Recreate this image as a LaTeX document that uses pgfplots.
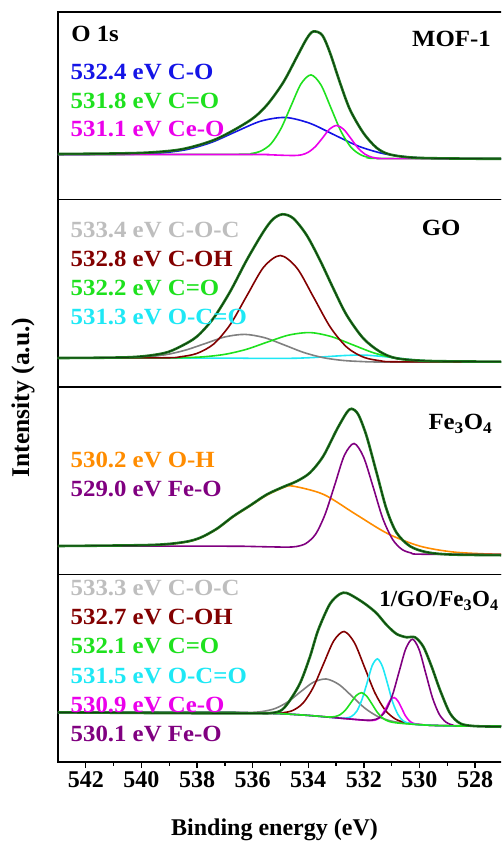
\documentclass[border=0pt]{standalone}
\usepackage{pgfplots}
\pgfplotsset{compat=1.18}
\usepackage{fontspec}
\setmainfont{Liberation Serif}
\newfontfamily\widefont{Liberation Serif}[FakeStretch=1.07]

\definecolor{cBlue}{RGB}{20,20,230}
\definecolor{cGreen}{RGB}{30,225,30}
\definecolor{cMag}{RGB}{235,0,235}
\definecolor{cGreyT}{RGB}{190,190,190}
\definecolor{cGreyL}{RGB}{128,128,128}
\definecolor{cRed}{RGB}{130,0,0}
\definecolor{cCyan}{RGB}{30,232,245}
\definecolor{cOrange}{RGB}{255,140,0}
\definecolor{cPurple}{RGB}{128,0,128}
\definecolor{cEnv}{RGB}{30,120,30}

\newcommand\lbl{\widefont\fontsize{23.2}{27}\selectfont\bfseries}

\pgfplotsset{
  panel/.style={
    anchor=south west, scale only axis,
    width=450.4pt, height=187.5pt,
    xmin=526.8, xmax=543, x dir=reverse,
    ymin=0, ymax=187.5,
    xtick=\empty, ytick=\empty,
    axis line style={line width=1.4pt},
  },
  comp/.style={smooth, no markers, line width=1.6pt},
  env/.style={smooth, no markers, line width=2.6pt, color=cEnv,
    postaction={draw, black, line width=0.5pt, draw opacity=0.7}},
}
\tikzset{tag/.style={anchor=base west, inner sep=0pt, font=\lbl}}

\begin{document}
\begin{tikzpicture}
\path[use as bounding box] (-58pt,-81pt) rectangle (443pt,762pt);
\clip (-58pt,-81pt) rectangle (443pt,762pt);

% ---- MOF-1
\begin{axis}[panel, at={(0pt,562.5pt)}]
\addplot[comp, cBlue] coordinates {(543,45.0) (540.98,45.1) (540.10,45.4) (539.22,46.7) (538.34,50.1) (537.46,57.3) (536.58,68.1) (535.70,78.4) (534.82,82.0) (533.94,76.2) (533.06,64.6) (532.18,53.2) (531.30,45.9) (530.42,42.5) (529.54,41.2) (528.66,40.8) (526.8,40.7)};
\addplot[comp, cGreen] coordinates {(543,45.0) (536.42,45.2) (536.06,45.9) (535.70,48.5) (535.34,55.7) (534.98,70.9) (534.62,93.5) (534.26,115.6) (533.90,124.6) (533.54,114.5) (533.18,91.4) (532.82,68.0) (532.46,52.2) (532.10,44.5) (531.74,41.7) (531.38,41.0) (526.8,40.7)};
\addplot[comp, cMag] coordinates {(543,45.0) (536,45.0) (535.5,44.8) (535,44.3) (534.76,44.1) (534.50,44.0) (534.25,44.6) (534.00,47.2) (533.74,53.0) (533.48,61.7) (533.23,70.5) (532.97,74.0) (532.72,70.0) (532.46,60.8) (532.21,51.5) (531.95,45.2) (531.70,42.2) (531.44,41.1) (531.18,40.9) (526.8,40.7)};
\addplot[env] coordinates {(543,45.5) (541,46) (539.7,47) (538.5,50.5) (537.3,60.5) (536.1,79) (535.5,94) (534.9,117) (534.4,143) (534.05,161) (533.82,168) (533.5,164.5) (533.22,147) (532.86,117) (532.5,90) (532.02,66.7) (531.54,51.7) (531.06,45) (530.1,41.7) (528,40.8) (526.8,40.7)};
\node[tag] at (axis cs:542.53,158.3) {O 1s};
\node[tag, text=cBlue] at (axis cs:542.55,120) {532.4 eV C-O};
\node[tag, text=cGreen] at (axis cs:542.55,91.3) {531.8 eV C=O};
\node[tag, text=cMag] at (axis cs:542.55,62.5) {531.1 eV Ce-O};
\node[tag] at (axis cs:530.27,153.3) {MOF-1};
\end{axis}

% ---- GO
\begin{axis}[panel, at={(0pt,375pt)}]
\addplot[comp, cCyan] coordinates {(543,29.0) (537,28.9) (536,28.6) (535.0,28.6) (534.4,28.8) (533.8,29.5) (533.2,30.6) (532.6,31.6) (532.0,31.9) (531.4,30.7) (530.8,28.9) (530.2,27.1) (529.6,25.9) (529.0,25.3) (526.8,25.0)};
\addplot[comp, cGreyL] coordinates {(543,29.0) (541.25,29.1) (540.54,29.3) (539.83,30.1) (539.12,32.3) (538.41,36.9) (537.70,43.5) (536.99,50.1) (536.28,52.6) (535.57,49.3) (534.86,42.0) (534.15,34.4) (533.44,29.2) (532.73,26.5) (532.02,25.4) (531.31,25.0) (526.8,25.0)};
\addplot[comp, cGreen] coordinates {(543,29.0) (539.29,29.1) (538.52,29.3) (537.76,30.2) (536.99,32.7) (536.23,37.6) (535.46,45.0) (534.70,51.9) (533.93,54.4) (533.17,50.4) (532.40,42.2) (531.64,34.1) (530.87,28.8) (530.11,26.2) (529.34,25.3) (528.58,25.1) (526.8,25.0)};
\addplot[comp, cRed] coordinates {(543,29.0) (539.2,29.2) (538.6,30.2) (538.0,33.6) (537.4,43.0) (536.8,62.6) (536.2,91.6) (535.6,119.9) (535.0,131.5) (534.4,118.7) (533.8,89.4) (533.2,59.6) (532.6,39.5) (532.0,29.7) (531.4,26.2) (530.8,25.2) (526.8,25.0)};
\addplot[env] coordinates {(543,29.0) (540.4,29.8) (539.21,33.7) (538.61,40.3) (538.01,50.3) (537.41,68.7) (536.81,95.3) (536.21,127) (535.61,155.3) (535.26,168) (534.92,172.7) (534.54,168.7) (534.06,152) (533.58,127) (533.10,98.7) (532.62,72) (532.02,48.7) (531.42,35.3) (530.82,28.7) (529.62,26) (527.1,25.3) (526.8,25.3)};
\node[tag, text=cGreyT] at (axis cs:542.55,149.3) {533.4 eV C-O-C};
\node[tag, text=cRed] at (axis cs:542.55,120.3) {532.8 eV C-OH};
\node[tag, text=cGreen] at (axis cs:542.55,91.3) {532.2 eV C=O};
\node[tag, text=cCyan] at (axis cs:542.55,62) {531.3 eV O-C=O};
\node[tag] at (axis cs:529.92,151.3) {GO};
\end{axis}

% ---- Fe3O4
\begin{axis}[panel, at={(0pt,187.5pt)}]
\addplot[comp, cOrange] coordinates {(543,28.3) (539.69,29.2) (538.49,32.0) (537.89,36.4) (537.29,45.3) (536.69,57.8) (536.09,68.5) (535.49,79.3) (534.89,86.9) (534.55,88.4) (533.45,80.1) (532.30,60.4) (531.15,41.0) (530.00,28.5) (528.85,22.7) (527.70,20.7) (526.8,20.2)};
\addplot[comp, cPurple] coordinates {(543,28.3) (537,28.3) (536,28.0) (535.5,27.7) (534.77,27.4) (534.42,28.0) (534.08,31.1) (533.73,40.5) (533.39,60.4) (533.04,90.1) (532.70,119.1) (532.35,131.0) (532.01,117.5) (531.66,87.1) (531.32,56.2) (530.97,35.3) (530.63,25.1) (530.28,21.4) (529.94,20.3) (526.8,20.0)};
\addplot[env] coordinates {(543,28.5) (539.69,29.5) (538.49,32.3) (537.89,36.7) (537.29,45.7) (536.69,58.3) (536.09,69) (535.49,80) (534.89,87.7) (534.41,93.3) (533.94,101.7) (533.46,118.3) (532.97,145) (532.62,161.7) (532.44,165.7) (532.20,160) (531.90,138.3) (531.54,101.7) (531.18,65) (530.82,41.7) (530.34,28.3) (529.74,22.3) (528.90,20) (527.1,19.3) (526.8,19.3)};
\node[tag, text=cOrange] at (axis cs:542.55,107.3) {530.2 eV O-H};
\node[tag, text=cPurple] at (axis cs:542.55,78.3) {529.0 eV Fe-O};
\node[tag] at (axis cs:529.68,145) {Fe\textsubscript{3}O\textsubscript{4}};
\end{axis}

% ---- 1/GO/Fe3O4
\begin{axis}[panel, at={(0pt,0pt)},
  xtick={528,530,...,542}, minor xtick={529,531,...,541},
  xtick pos=bottom, tick align=outside,
  major tick length=6pt, minor tick length=3.5pt,
  tick style={line width=1.4pt, black},
  xticklabel style={font=\fontsize{24}{28}\selectfont\bfseries},
  /pgf/number format/assume math mode=true,
]
\addplot[comp, cGreyL] coordinates {(543,49.5) (537,49.5) (536.57,49.4) (536.11,49.5) (535.65,50.5) (535.19,53.5) (534.73,60.2) (534.27,70.3) (533.81,79.8) (533.35,83.0) (532.89,77.4) (532.43,65.9) (531.97,54.0) (531.51,45.7) (531.05,41.2) (530.59,38.9) (530.13,37.7) (529.5,36.6) (528.5,36.0) (526.8,36.0)};
\addplot[comp, cRed] coordinates {(543,49.5) (537,49.5) (536,49.0) (535.30,48.7) (534.93,49.2) (534.56,51.5) (534.19,58.8) (533.82,74.5) (533.45,98.1) (533.08,121.2) (532.71,130.5) (532.34,119.4) (531.97,94.5) (531.60,69.1) (531.23,51.8) (530.86,42.9) (530.49,39.3) (530.12,37.7) (529.5,36.6) (528.5,36.0) (526.8,36.0)};
\addplot[comp, cMag] coordinates {(543,49.5) (537,49.5) (536,49.0) (535,48.3) (534,46.6) (533,44.2) (532,41.8) (531.72,41.4) (531.59,41.9) (531.45,43.9) (531.32,48.4) (531.18,55.1) (531.05,61.8) (530.91,64.5) (530.78,61.2) (530.64,53.9) (530.51,46.5) (530.37,41.4) (530.24,38.9) (530.10,37.8) (529.8,37.0) (529.5,36.6) (528.5,36.0) (526.8,36.0)};
\addplot[comp, cCyan] coordinates {(543,49.5) (537,49.5) (536,49.0) (535,48.3) (534,46.6) (533.5,45.4) (533,44.2) (532.81,43.8) (532.62,44.0) (532.44,45.6) (532.25,50.9) (532.07,62.3) (531.88,79.4) (531.70,96.3) (531.51,103.1) (531.33,95.4) (531.14,77.6) (530.96,59.6) (530.77,47.4) (530.59,41.2) (530.40,38.8) (530.22,37.8) (530,37.3) (529.5,36.6) (528.5,36.0) (526.8,36.0)};
\addplot[comp, cPurple] coordinates {(543,49.5) (537,49.5) (536,49.0) (535,48.3) (534,46.6) (533,44.2) (532.5,43.0) (531.93,41.8) (531.69,42.0) (531.45,44.2) (531.21,51.4) (530.97,66.9) (530.73,90.4) (530.49,113.3) (530.25,122.8) (530.01,112.3) (529.77,88.4) (529.53,64.2) (529.29,47.9) (529.05,39.9) (528.81,37.0) (528.57,36.2) (526.8,36.0)};
\addplot[comp, cGreen] coordinates {(543,49.5) (537,49.5) (536,49.0) (535,48.3) (534,46.6) (533.41,45.3) (533.22,45.0) (533.03,45.5) (532.84,47.5) (532.65,52.3) (532.46,59.5) (532.27,66.5) (532.08,69.3) (531.89,65.6) (531.70,57.7) (531.51,49.5) (531.32,43.9) (531.13,40.9) (530.94,39.6) (530.75,38.9) (530.5,38.3) (530,37.3) (529.5,36.6) (528.5,36.0) (526.8,36.0)};
\addplot[env] coordinates {(543,49.7) (539.09,48.9) (536.45,48.7) (535.49,48.7) (535.01,51) (534.7,60) (534.29,79) (533.94,105) (533.64,132) (533.22,158) (532.86,168) (532.62,169) (532.26,163.7) (531.90,157) (531.54,148.7) (531.18,137) (530.82,128) (530.46,124.7) (530.16,124.7) (529.86,115.3) (529.56,95.3) (529.26,72) (528.90,48.7) (528.54,38.7) (528.06,36) (527.1,35.3) (526.8,35.3)};
\node[tag, text=cGreyT] at (axis cs:542.55,166) {533.3 eV C-O-C};
\node[tag, text=cRed] at (axis cs:542.55,137) {532.7 eV C-OH};
\node[tag, text=cGreen] at (axis cs:542.55,108) {532.1 eV C=O};
\node[tag, text=cCyan] at (axis cs:542.55,78.7) {531.5 eV O-C=O};
\node[tag, text=cMag] at (axis cs:542.55,49.5) {530.9 eV Ce-O};
\node[tag, text=cPurple] at (axis cs:542.55,20.5) {530.1 eV Fe-O};
\node[anchor=base west, inner sep=0pt, font=\fontsize{23}{27}\selectfont\bfseries] at (axis cs:531.45,155.3) {1/GO/Fe\textsubscript{3}O\textsubscript{4}};
\end{axis}

\node[rotate=90, font=\fontsize{25.5}{30}\selectfont\bfseries] at (-35pt,364.5pt) {Intensity (a.u.)};
\node[anchor=base, font=\fontsize{24}{28}\selectfont\bfseries] at (216.5pt,-73.7pt) {Binding energy (eV)};
\end{tikzpicture}
\end{document}
